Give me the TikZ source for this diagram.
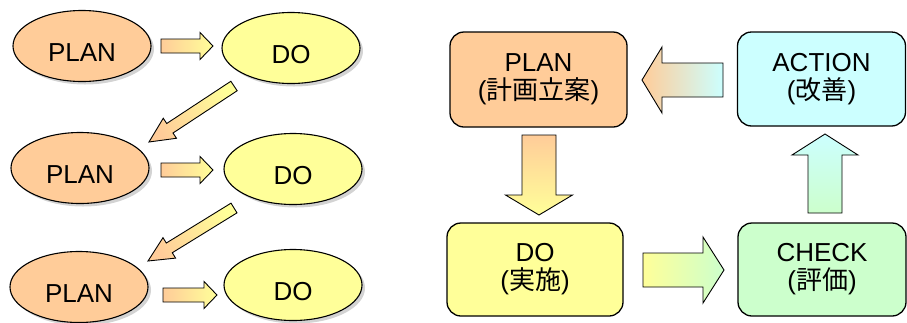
\documentclass[tikz,border=0pt]{standalone}
\usepackage{fontspec}
\setmainfont{Liberation Sans}
\newfontfamily\cjk{Noto Sans CJK JP}
\usetikzlibrary{calc,shadows,shapes.geometric}
\definecolor{cplan}{HTML}{FFCC99}
\definecolor{cdo}{HTML}{FFFF99}
\definecolor{cact}{HTML}{CCFFFF}
\definecolor{cchk}{HTML}{CCFFCC}
\newcommand\blockarrow[6]{%
  \coordinate (bah) at ($(#2)!#5!(#1)$);
  \path[draw=black,line width=0.9pt,line join=miter,#6]
    ($(#1)!#3!90:(#2)$) -- ($(bah)!#3!-90:(#1)$) -- ($(bah)!#4!-90:(#1)$) -- (#2)
    -- ($(bah)!#4!90:(#1)$) -- ($(bah)!#3!90:(#1)$) -- ($(#1)!#3!-90:(#2)$) -- cycle;}
\tikzset{
  ell/.style={ellipse,draw=black,line width=1.1pt,inner sep=0pt,
    minimum width=138pt,minimum height=71pt,text height=31pt,text depth=0pt,
    font=\fontsize{26}{30}\selectfont,
    drop shadow={shadow xshift=3pt,shadow yshift=-3pt,opacity=0.35}},
  box/.style={rectangle,rounded corners=14pt,draw=black,line width=1.3pt,
    align=center,inner sep=0pt,font=\fontsize{26}{28}\selectfont},
}
\begin{document}
\begin{tikzpicture}[x=1pt,y=-1pt]
\useasboundingbox (0,0) rectangle (907,322);
% left side
\node[ell,fill=cplan] (p1) at (82,46) {PLAN};
\node[ell,fill=cdo]   (d1) at (291,48) {DO};
\node[ell,fill=cplan] (p2) at (80,168) {PLAN};
\node[ell,fill=cdo]   (d2) at (293,169) {DO};
\node[ell,fill=cplan] (p3) at (79,287) {PLAN};
\node[ell,fill=cdo]   (d3) at (293,285) {DO};
\coordinate (a1t) at (161,46);  \coordinate (a1h) at (213,46);
\coordinate (a2t) at (161,170); \coordinate (a2h) at (213,170);
\coordinate (a3t) at (163,295); \coordinate (a3h) at (217,295);
\coordinate (g1t) at (234,86);  \coordinate (g1h) at (149,142);
\coordinate (g2t) at (234,208); \coordinate (g2h) at (148,261);
\blockarrow{a1t}{a1h}{7pt}{13.5pt}{13pt}{left color=cplan,right color=cdo}
\blockarrow{a2t}{a2h}{7pt}{13.5pt}{13pt}{left color=cplan,right color=cdo}
\blockarrow{a3t}{a3h}{7pt}{13.5pt}{13pt}{left color=cplan,right color=cdo}
\blockarrow{g1t}{g1h}{5.7pt}{12pt}{25pt}{top color=cdo,bottom color=cplan,shading angle=-57}
\blockarrow{g2t}{g2h}{5.7pt}{12pt}{25pt}{top color=cdo,bottom color=cplan,shading angle=-58}
% right side
\node[box,fill=cplan,minimum width=177pt,minimum height=95pt] (plan) at (538.5,79.5)
  {PLAN\\({\cjk 計画立案})};
\node[box,fill=cact,minimum width=168pt,minimum height=94pt] (act) at (821.5,79)
  {ACTION\\({\cjk 改善})};
\node[box,fill=cdo,minimum width=176pt,minimum height=93pt] (do) at (535,269.5)
  {DO\\({\cjk 実施})};
\node[box,fill=cchk,minimum width=168pt,minimum height=93pt] (chk) at (822,269.5)
  {CHECK\\({\cjk 評価})};
\coordinate (r1t) at (723,80);  \coordinate (r1h) at (642,80);
\coordinate (r2t) at (539,135); \coordinate (r2h) at (539,215);
\coordinate (r3t) at (643,270); \coordinate (r3h) at (724,270);
\coordinate (r4t) at (825,213); \coordinate (r4h) at (825,134);
\blockarrow{r1t}{r1h}{17pt}{33pt}{20pt}{left color=cplan,right color=cact}
\blockarrow{r2t}{r2h}{17pt}{33.5pt}{20pt}{top color=cplan,bottom color=cdo}
\blockarrow{r3t}{r3h}{17pt}{33pt}{21pt}{left color=cdo,right color=cchk}
\blockarrow{r4t}{r4h}{17pt}{33pt}{21pt}{top color=cact,bottom color=cchk}
\end{tikzpicture}
\end{document}
